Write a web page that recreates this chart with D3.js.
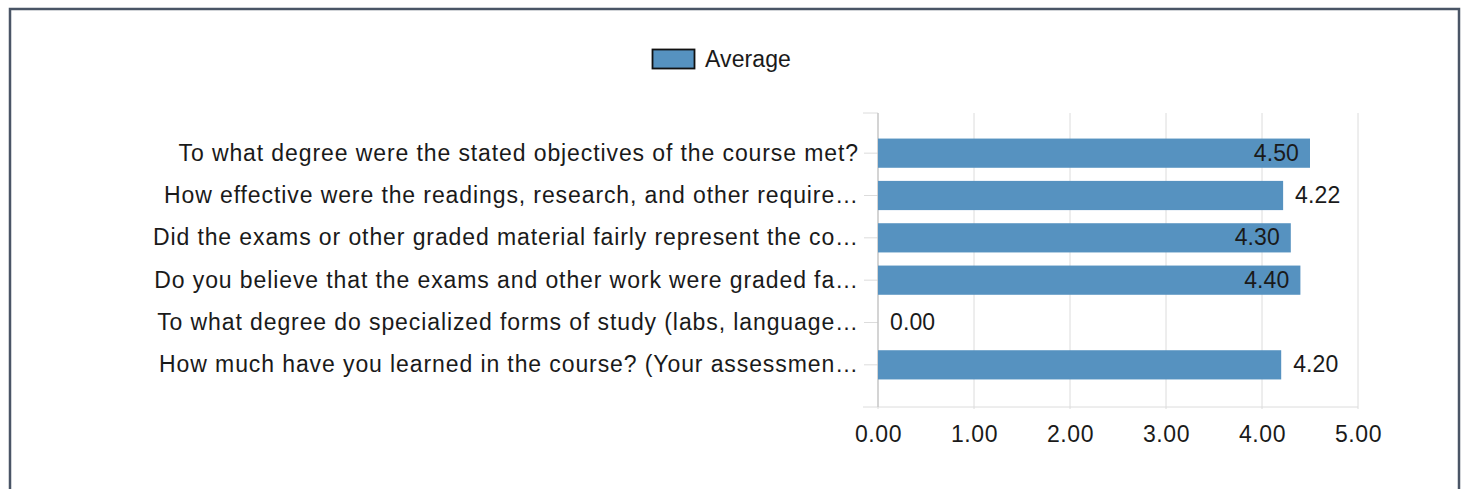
<!DOCTYPE html>
<html>
<head>
<meta charset="utf-8">
<script src="https://cdnjs.cloudflare.com/ajax/libs/d3/7.8.5/d3.min.js"></script>
<style>
  html, body { margin: 0; padding: 0; background: #fff; }
  #chart { width: 1467px; height: 489px; }
  text { font-family: "Liberation Sans", Arial, sans-serif; }
</style>
</head>
<body>
<div id="chart"></div>
<script>
const questions = [
  "To what degree were the stated objectives of the course met?",
  "How effective were the readings, research, and other require\u2026",
  "Did the exams or other graded material fairly represent the co\u2026",
  "Do you believe that the exams and other work were graded fa\u2026",
  "To what degree do specialized forms of study (labs, language\u2026",
  "How much have you learned in the course? (Your assessmen\u2026"
];
const averages = [4.50, 4.22, 4.30, 4.40, 0.00, 4.20];
const xTicks = [0, 1, 2, 3, 4, 5];
const seriesName = "Average";

const width = 1467, height = 489;
const barColor = "#5692c0";
const gridColor = "#dcdcdc";
const textColor = "#1a1a1a";
const fontSize = 23;

const svg = d3.select("#chart").append("svg")
  .attr("width", width)
  .attr("height", height);

// frame
svg.append("rect")
  .attr("x", 10).attr("y", 9)
  .attr("width", 1449).attr("height", 500)
  .attr("fill", "none")
  .attr("stroke", "#4a5566")
  .attr("stroke-width", 2.5);

const x = d3.scaleLinear().domain([0, 5]).range([878, 1358]);
const y = d3.scaleBand().domain(questions).range([132, 386]).paddingInner(0.31).paddingOuter(0.155);

const plotTop = 113, plotBottom = 407;

// grid
svg.append("g")
  .selectAll("line")
  .data(xTicks)
  .join("line")
  .attr("x1", d => x(d)).attr("x2", d => x(d))
  .attr("y1", plotTop).attr("y2", plotBottom + 2)
  .attr("stroke", gridColor)
  .attr("stroke-width", 1);

// x axis
const axisBottom = d3.axisBottom(x)
  .tickValues(xTicks)
  .tickFormat(d3.format(".2f"))
  .tickSize(0)
  .tickPadding(19);

const gx = svg.append("g")
  .attr("transform", `translate(0 ${plotBottom})`)
  .call(axisBottom);
gx.select(".domain").remove();
gx.selectAll("text")
  .attr("font-size", fontSize)
  .attr("letter-spacing", 0.6)
  .attr("fill", textColor)
  .attr("font-family", "Liberation Sans, Arial, sans-serif");

svg.append("line")
  .attr("x1", 863).attr("x2", x(5))
  .attr("y1", plotBottom).attr("y2", plotBottom)
  .attr("stroke", gridColor);

// y axis
const axisLeft = d3.axisLeft(y)
  .tickSize(14)
  .tickSizeOuter(14)
  .tickPadding(5);

const gy = svg.append("g")
  .attr("transform", `translate(${x(0)} 0)`)
  .call(axisLeft);
gy.select(".domain").remove();
gy.selectAll(".tick line").attr("stroke", gridColor);
gy.selectAll("text")
  .attr("font-size", fontSize)
  .attr("letter-spacing", 0.9)
  .attr("fill", textColor)
  .attr("font-family", "Liberation Sans, Arial, sans-serif");

svg.append("line")
  .attr("x1", 863).attr("x2", x(0))
  .attr("y1", plotTop).attr("y2", plotTop)
  .attr("stroke", gridColor);
svg.append("line")
  .attr("x1", x(0)).attr("x2", x(0))
  .attr("y1", plotTop).attr("y2", plotBottom)
  .attr("stroke", "#bbb");

// bars
const rows = questions.map((q, i) => ({ q, v: averages[i] }));

svg.append("g")
  .selectAll("rect")
  .data(rows)
  .join("rect")
  .attr("x", x(0))
  .attr("y", d => y(d.q))
  .attr("width", d => x(d.v) - x(0))
  .attr("height", y.bandwidth())
  .attr("fill", barColor);

// value labels: inside the bar when long enough
const insideMin = 4.25;
svg.append("g")
  .selectAll("text")
  .data(rows)
  .join("text")
  .attr("x", d => d.v >= insideMin ? x(d.v) - 11 : x(d.v) + 12)
  .attr("y", d => y(d.q) + y.bandwidth() / 2)
  .attr("dy", "0.33em")
  .attr("text-anchor", d => d.v >= insideMin ? "end" : "start")
  .attr("font-size", fontSize)
  .attr("letter-spacing", 0.1)
  .attr("fill", textColor)
  .text(d => d3.format(".2f")(d.v));

// legend
const legend = svg.append("g").attr("transform", "translate(652 49)");
legend.append("rect")
  .attr("x", 0.5).attr("y", 0.5)
  .attr("width", 42).attr("height", 19)
  .attr("fill", barColor)
  .attr("stroke", "#111")
  .attr("stroke-width", 1.8);
legend.append("text")
  .attr("x", 53).attr("y", 10)
  .attr("dy", "0.33em")
  .attr("font-size", fontSize)
  .attr("letter-spacing", 0.1)
  .attr("fill", textColor)
  .text(seriesName);
</script>
</body>
</html>
